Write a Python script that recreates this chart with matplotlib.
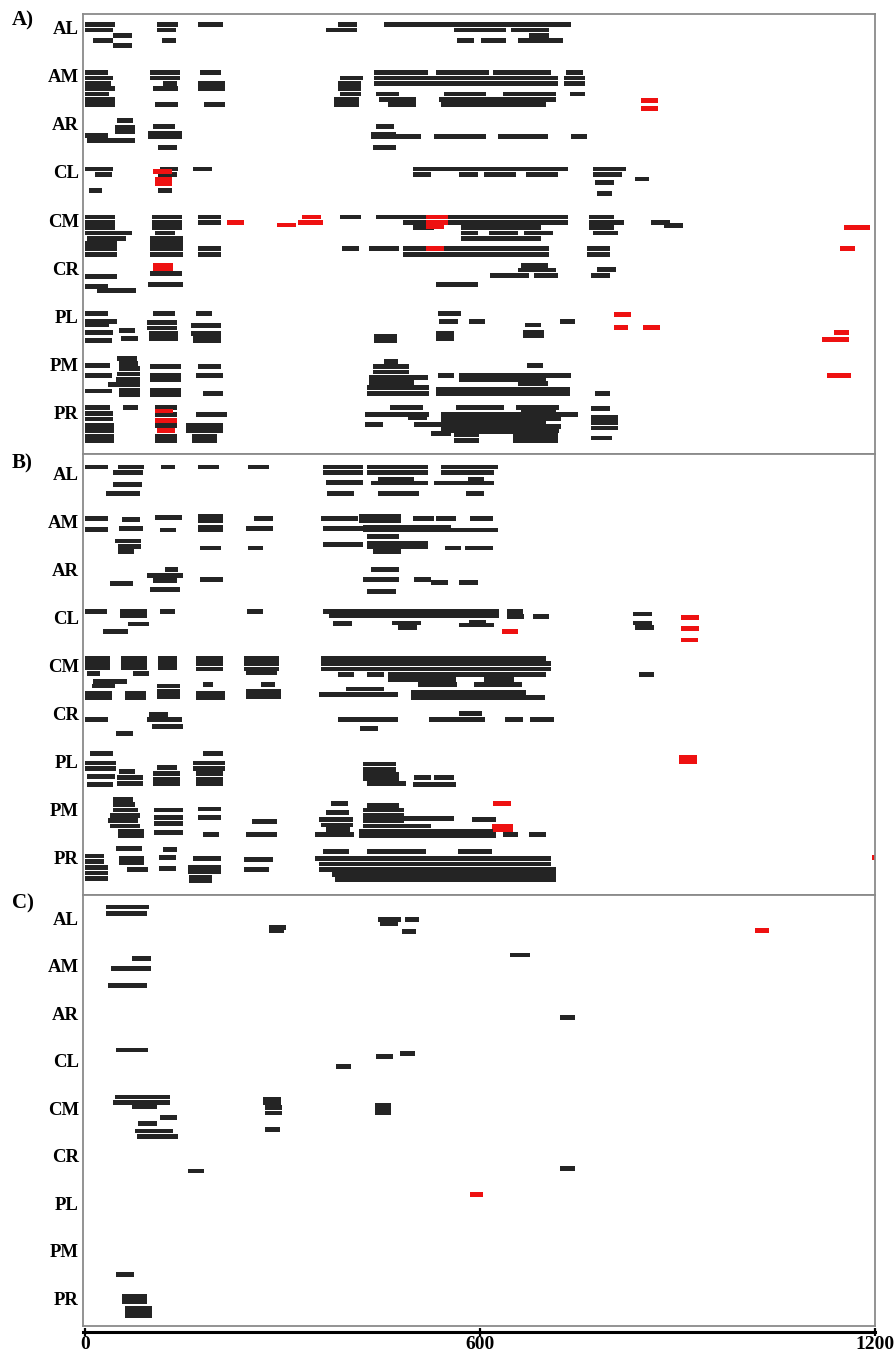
import matplotlib
matplotlib.use("Agg")
import matplotlib.pyplot as plt

# categories (rows of each panel) and x ticks
cats = ["AL", "AM", "AR", "CL", "CM", "CR", "PL", "PM", "PR"]
xticks = [0, 600, 1200]
panel_names = ["A)", "B)", "C)"]

# segments: (category, sub-row, start, end)
a_black = [
    ("AL", 0, 0, 46), ("AL", 1, 0, 42), ("AL", 2, 43, 72), ("AL", 3, 12, 43), ("AL", 4, 43, 72),
    ("AL", 0, 110, 142), ("AL", 1, 110, 138), ("AL", 3, 117, 138), ("AL", 0, 171, 210),
    ("AL", 0, 385, 413), ("AL", 1, 366, 413), ("AL", 0, 454, 739), ("AL", 1, 560, 640),
    ("AL", 1, 647, 705), ("AL", 2, 675, 705), ("AL", 3, 565, 591), ("AL", 3, 602, 640), ("AL", 3, 658, 726),

    ("AM", 0, 0, 35), ("AM", 1, 0, 43), ("AM", 2, 0, 40), ("AM", 3, 0, 46), ("AM", 4, 0, 37),
    ("AM", 5, 0, 46), ("AM", 6, 0, 46),
    ("AM", 0, 99, 145), ("AM", 1, 99, 145), ("AM", 2, 119, 140), ("AM", 3, 104, 142), ("AM", 6, 107, 142),
    ("AM", 0, 174, 207), ("AM", 2, 172, 212), ("AM", 3, 172, 212), ("AM", 6, 181, 213),
    ("AM", 1, 388, 422), ("AM", 2, 384, 419), ("AM", 3, 384, 419), ("AM", 4, 388, 419),
    ("AM", 5, 379, 416), ("AM", 6, 379, 416),
    ("AM", 0, 439, 521), ("AM", 0, 533, 614), ("AM", 0, 620, 708), ("AM", 0, 731, 757),
    ("AM", 1, 439, 719), ("AM", 2, 439, 719), ("AM", 1, 728, 760), ("AM", 2, 728, 760),
    ("AM", 4, 442, 477), ("AM", 4, 545, 609), ("AM", 4, 635, 716), ("AM", 4, 736, 760),
    ("AM", 5, 446, 503), ("AM", 5, 538, 716), ("AM", 6, 460, 503), ("AM", 6, 541, 700),

    ("AR", 0, 49, 73), ("AR", 1.2, 46, 76), ("AR", 2, 46, 76), ("AR", 2.8, 0, 35), ("AR", 3.7, 3, 76),
    ("AR", 1, 104, 137), ("AR", 2.4, 96, 148), ("AR", 3.0, 96, 148), ("AR", 5, 111, 140),
    ("AR", 1, 442, 469), ("AR", 2.5, 434, 472), ("AR", 3, 434, 510), ("AR", 3, 530, 609),
    ("AR", 3, 627, 703), ("AR", 3, 739, 763), ("AR", 5, 437, 472),

    ("CL", 0, 0, 43), ("CL", 1, 15, 41), ("CL", 4, 6, 26),
    ("CL", 0, 114, 142), ("CL", 1, 111, 140), ("CL", 4, 111, 132), ("CL", 0, 164, 193),
    ("CL", 0, 498, 734), ("CL", 1, 498, 525), ("CL", 1, 568, 597), ("CL", 1, 606, 655), ("CL", 1, 670, 719),
    ("CL", 0, 772, 822), ("CL", 1, 772, 815), ("CL", 2.6, 775, 803), ("CL", 4.7, 777, 800), ("CL", 1.9, 835, 857),

    ("CM", 0, 0, 46), ("CM", 1, 0, 46), ("CM", 2, 0, 46), ("CM", 3, 0, 72), ("CM", 4, 3, 62),
    ("CM", 5, 0, 49), ("CM", 6, 0, 49), ("CM", 7, 0, 49),
    ("CM", 0, 102, 148), ("CM", 1, 102, 148), ("CM", 2, 102, 148), ("CM", 3, 107, 137),
    ("CM", 4, 99, 149), ("CM", 5, 99, 149), ("CM", 6, 99, 149), ("CM", 7, 99, 149),
    ("CM", 0, 171, 206), ("CM", 1, 171, 206), ("CM", 6, 171, 207), ("CM", 7, 171, 207),
    ("CM", 0, 388, 419), ("CM", 0, 442, 734), ("CM", 1, 483, 734), ("CM", 2, 498, 530), ("CM", 2, 571, 693),
    ("CM", 3, 571, 597), ("CM", 3, 614, 658), ("CM", 3, 667, 711), ("CM", 3, 772, 809),
    ("CM", 4, 571, 693), ("CM", 6, 391, 416), ("CM", 6, 431, 477), ("CM", 6, 483, 705), ("CM", 7, 483, 705),
    ("CM", 0, 766, 803), ("CM", 1, 766, 819), ("CM", 2, 766, 803), ("CM", 6, 762, 797), ("CM", 7, 762, 797),
    ("CM", 1, 859, 888), ("CM", 1.6, 879, 909),

    ("CR", 2.2, 0, 49), ("CR", 4, 0, 35), ("CR", 4.8, 18, 78), ("CR", 1.6, 99, 148), ("CR", 3.6, 96, 149),
    ("CR", 0, 663, 703), ("CR", 0.9, 658, 716), ("CR", 2, 615, 675), ("CR", 2, 682, 719),
    ("CR", 0.8, 777, 806), ("CR", 2, 769, 797), ("CR", 3.6, 533, 597),

    ("PL", 0, 0, 35), ("PL", 1.5, 0, 49), ("PL", 2.2, 0, 37), ("PL", 3.7, 0, 43), ("PL", 5.2, 0, 41),
    ("PL", 3.2, 52, 76), ("PL", 4.8, 55, 81),
    ("PL", 0, 104, 137), ("PL", 1.8, 94, 140), ("PL", 2.8, 94, 140), ("PL", 3.8, 97, 142), ("PL", 4.8, 97, 142),
    ("PL", 0, 169, 193), ("PL", 2.3, 161, 207), ("PL", 3.8, 161, 206), ("PL", 4.4, 164, 206), ("PL", 5.2, 164, 207),
    ("PL", 4.3, 439, 474), ("PL", 5.2, 439, 474),
    ("PL", 0, 536, 571), ("PL", 1.6, 538, 567), ("PL", 1.6, 583, 608), ("PL", 2.2, 669, 693), ("PL", 1.6, 722, 745),
    ("PL", 3.8, 533, 560), ("PL", 4.8, 533, 560), ("PL", 3.7, 665, 697), ("PL", 4.3, 665, 697),

    ("PM", 0.8, 0, 38), ("PM", 2.6, 0, 41), ("PM", 5.6, 0, 41),
    ("PM", -0.6, 49, 79), ("PM", 0.4, 51, 81), ("PM", 1.4, 51, 83), ("PM", 2.4, 49, 84),
    ("PM", 3.4, 47, 84), ("PM", 4.4, 35, 84), ("PM", 5.4, 51, 84), ("PM", 6.2, 51, 84),
    ("PM", 0.9, 99, 146), ("PM", 2.6, 99, 146), ("PM", 3.5, 99, 146), ("PM", 5.5, 99, 146), ("PM", 6.2, 99, 146),
    ("PM", 0.9, 171, 207), ("PM", 2.6, 168, 209), ("PM", 6, 180, 210),
    ("PM", 0, 454, 475), ("PM", 1, 437, 492), ("PM", 2, 437, 492), ("PM", 3, 431, 521),
    ("PM", 4, 431, 500), ("PM", 5, 429, 522), ("PM", 6, 429, 522),
    ("PM", 2.6, 536, 560), ("PM", 2.6, 568, 739), ("PM", 3.4, 568, 700), ("PM", 4.2, 658, 703),
    ("PM", 0.8, 672, 696), ("PM", 5.3, 533, 737), ("PM", 6, 533, 737), ("PM", 6, 774, 797),

    ("PR", -0.3, 0, 38), ("PR", 0.8, 0, 43), ("PR", 1.8, 0, 43), ("PR", 3, 0, 44), ("PR", 4, 0, 44),
    ("PR", 5, 0, 44), ("PR", 5.8, 0, 44), ("PR", -0.3, 58, 81),
    ("PR", -0.3, 107, 140), ("PR", 1, 107, 140), ("PR", 3, 107, 140), ("PR", 5, 107, 140), ("PR", 5.8, 107, 140),
    ("PR", 0.9, 168, 215), ("PR", 3, 154, 210), ("PR", 4, 154, 210), ("PR", 5, 163, 200), ("PR", 5.8, 163, 200),
    ("PR", -0.3, 464, 513), ("PR", 1, 426, 522), ("PR", 1.6, 490, 520), ("PR", 2.8, 426, 452), ("PR", 2.8, 500, 556),
    ("PR", 4.6, 526, 556), ("PR", -0.3, 563, 637), ("PR", -0.3, 655, 720), ("PR", 0.4, 663, 716),
    ("PR", 1, 541, 749), ("PR", 1.8, 541, 723), ("PR", 2.5, 541, 700), ("PR", 3.2, 541, 723), ("PR", 4, 541, 720),
    ("PR", 4.8, 560, 599), ("PR", 5.8, 560, 599), ("PR", 4.2, 599, 650),
    ("PR", 4.4, 650, 719), ("PR", 5.2, 650, 719), ("PR", 5.9, 650, 719),
    ("PR", -0.2, 768, 797), ("PR", 1.5, 769, 810), ("PR", 2.5, 769, 810), ("PR", 3.5, 769, 810), ("PR", 5.4, 768, 801),
]
a_red = [
    ("AM", 5.2, 845, 870), ("AM", 6.7, 845, 870),
    ("CL", 0.5, 104, 132), ("CL", 2, 107, 132), ("CL", 2.7, 107, 132),
    ("CM", 1, 216, 241), ("CM", 1.5, 291, 320), ("CM", 0, 330, 358), ("CM", 1, 324, 362),
    ("CM", 0, 518, 551), ("CM", 1, 518, 551), ("CM", 1.8, 518, 545), ("CM", 6, 518, 545),
    ("CM", 1.9, 1153, 1192), ("CM", 6, 1147, 1170),
    ("CR", 0, 104, 134), ("CR", 0.6, 104, 134),
    ("PL", 0.3, 804, 829), ("PL", 2.7, 803, 825), ("PL", 2.7, 847, 873),
    ("PL", 3.6, 1138, 1161), ("PL", 5, 1119, 1161),
    ("PM", 2.7, 1127, 1164),
    ("PR", 0.3, 107, 134), ("PR", 2.1, 107, 140), ("PR", 3.9, 109, 137),
]

b_black = [
    ("AL", 0, 0, 35), ("AL", 0, 50, 90), ("AL", 1.1, 43, 88), ("AL", 3.3, 43, 87), ("AL", 5, 32, 84),
    ("AL", 0, 116, 137), ("AL", 0, 171, 204), ("AL", 0, 248, 279),
    ("AL", 0, 362, 423), ("AL", 0, 429, 521), ("AL", 0, 541, 627),
    ("AL", 1, 362, 423), ("AL", 1, 429, 521), ("AL", 1, 541, 621),
    ("AL", 2.9, 366, 422), ("AL", 2.3, 445, 500), ("AL", 3, 434, 521), ("AL", 3, 530, 621), ("AL", 2.3, 582, 606),
    ("AL", 5, 368, 408), ("AL", 5, 445, 507), ("AL", 5, 579, 606),

    ("AM", 0.7, 0, 35), ("AM", 2.7, 0, 35),
    ("AM", 0.8, 56, 84), ("AM", 2.6, 52, 88), ("AM", 4.9, 46, 85), ("AM", 5.9, 50, 85), ("AM", 6.9, 50, 75),
    ("AM", 0.5, 107, 148), ("AM", 2.8, 114, 139),
    ("AM", 0.3, 172, 209), ("AM", 1, 172, 209), ("AM", 2.3, 171, 210), ("AM", 2.8, 171, 210), ("AM", 6.2, 175, 207),
    ("AM", 0.7, 256, 286), ("AM", 2.6, 244, 285), ("AM", 6.2, 248, 271),
    ("AM", 0.7, 358, 414), ("AM", 0.3, 416, 480), ("AM", 1, 416, 480), ("AM", 0.7, 498, 530),
    ("AM", 0.7, 533, 563), ("AM", 0.7, 585, 620),
    ("AM", 2.6, 361, 423), ("AM", 2.3, 423, 556), ("AM", 2.8, 423, 627), ("AM", 4, 429, 477),
    ("AM", 5.6, 361, 422), ("AM", 5.3, 428, 521), ("AM", 6, 428, 521), ("AM", 6.2, 547, 571),
    ("AM", 6.2, 577, 620), ("AM", 6.9, 437, 480),

    ("AR", 3.9, 38, 73), ("AR", 1.2, 122, 142), ("AR", 2.3, 94, 149), ("AR", 3.3, 104, 140), ("AR", 4.9, 99, 145),
    ("AR", 3.1, 174, 210), ("AR", 1.2, 434, 477), ("AR", 3.1, 422, 477), ("AR", 3.1, 500, 525),
    ("AR", 3.7, 525, 551), ("AR", 5.4, 429, 472), ("AR", 3.7, 568, 597),

    ("CL", 0, 0, 34), ("CL", 0, 53, 94), ("CL", 0.8, 53, 94), ("CL", 2.4, 65, 98), ("CL", 3.8, 27, 65),
    ("CL", 0, 114, 137), ("CL", 0, 246, 271),
    ("CL", 0, 362, 629), ("CL", 0.9, 370, 629), ("CL", 2.3, 376, 406), ("CL", 2.2, 467, 510), ("CL", 3, 475, 505),
    ("CL", 0, 641, 665), ("CL", 1, 641, 667), ("CL", 1, 681, 705), ("CL", 2.6, 568, 621), ("CL", 2, 583, 609),
    ("CL", 0.5, 833, 862), ("CL", 2.2, 833, 862), ("CL", 3, 836, 865),

    ("CM", -0.2, 0, 38), ("CM", 0.8, 0, 38), ("CM", 1.6, 0, 38), ("CM", 2.6, 3, 23), ("CM", 4.1, 12, 64),
    ("CM", 5, 11, 46), ("CM", 6.4, 0, 41), ("CM", 7.3, 0, 41),
    ("CM", -0.2, 55, 94), ("CM", 0.8, 55, 94), ("CM", 1.6, 55, 94), ("CM", 2.6, 73, 98),
    ("CM", 6.4, 61, 93), ("CM", 7.2, 61, 93),
    ("CM", -0.2, 111, 140), ("CM", 0.8, 111, 140), ("CM", 1.6, 111, 140),
    ("CM", 5, 110, 145), ("CM", 6, 110, 145), ("CM", 7, 110, 145),
    ("CM", -0.2, 168, 209), ("CM", 0.8, 168, 209), ("CM", 1.8, 168, 209), ("CM", 4.7, 180, 195),
    ("CM", 6.4, 168, 212), ("CM", 7.2, 168, 212),
    ("CM", -0.2, 241, 294), ("CM", 0.8, 241, 294), ("CM", 1.8, 241, 294), ("CM", 2.5, 244, 291),
    ("CM", 4.7, 267, 289), ("CM", 6, 244, 297), ("CM", 7, 244, 297),
    ("CM", -0.2, 358, 700), ("CM", 0.8, 358, 708), ("CM", 1.8, 358, 708),
    ("CM", 2.8, 384, 408), ("CM", 2.8, 428, 454), ("CM", 2.8, 460, 700), ("CM", 3.8, 460, 563),
    ("CM", 4.8, 506, 565), ("CM", 3.8, 606, 652), ("CM", 4.7, 591, 664),
    ("CM", 5.6, 396, 454), ("CM", 6.6, 355, 475), ("CM", 6.2, 495, 670), ("CM", 7.2, 495, 699),
    ("CM", 2.8, 841, 864),

    ("CR", 2.3, 0, 35), ("CR", 4.9, 47, 73), ("CR", 1.3, 97, 126), ("CR", 2.2, 94, 148), ("CR", 3.6, 102, 149),
    ("CR", 2.3, 384, 475), ("CR", 3.9, 417, 445), ("CR", 2.3, 522, 608), ("CR", 1.1, 568, 603),
    ("CR", 2.2, 638, 665), ("CR", 2.2, 676, 713),

    ("PL", -0.4, 8, 43), ("PL", 1.4, 0, 47), ("PL", 2.4, 0, 47), ("PL", 3.9, 3, 46), ("PL", 5.4, 3, 43),
    ("PL", 3, 52, 76), ("PL", 4.2, 49, 88), ("PL", 5.2, 49, 88),
    ("PL", 2.3, 110, 140), ("PL", 3.4, 104, 145), ("PL", 4.4, 104, 145), ("PL", 5.3, 104, 145),
    ("PL", -0.4, 180, 210), ("PL", 1.4, 164, 212), ("PL", 2.4, 164, 212),
    ("PL", 3.4, 168, 209), ("PL", 4.4, 168, 209), ("PL", 5.3, 168, 209),
    ("PL", 1.6, 423, 472), ("PL", 2.6, 423, 472), ("PL", 3.6, 422, 477), ("PL", 4.4, 422, 477),
    ("PL", 5.3, 429, 487), ("PL", 4.1, 500, 525), ("PL", 4.1, 530, 560), ("PL", 5.4, 498, 563),

    ("PM", -0.8, 43, 73), ("PM", 0.2, 43, 76), ("PM", 1.2, 43, 81), ("PM", 2.2, 38, 84),
    ("PM", 3.2, 35, 81), ("PM", 4.2, 38, 84), ("PM", 5.2, 50, 90), ("PM", 6, 50, 90),
    ("PM", 1.2, 105, 149), ("PM", 2.6, 105, 149), ("PM", 3.7, 105, 149), ("PM", 5.5, 105, 149),
    ("PM", 1, 171, 207), ("PM", 2.6, 171, 207), ("PM", 5.8, 180, 203),
    ("PM", 3.3, 254, 291), ("PM", 5.8, 245, 292),
    ("PM", 0, 373, 399), ("PM", 1.6, 366, 401), ("PM", 3, 355, 407), ("PM", 4, 358, 407),
    ("PM", 4.8, 366, 402), ("PM", 5.8, 350, 408),
    ("PM", 0.3, 429, 477), ("PM", 1.2, 422, 484), ("PM", 2.2, 422, 484), ("PM", 3.2, 422, 484),
    ("PM", 4.2, 422, 525), ("PM", 2.8, 484, 560), ("PM", 3, 588, 624),
    ("PM", 5.2, 416, 624), ("PM", 6, 416, 624), ("PM", 5.8, 635, 658), ("PM", 5.8, 675, 700),

    ("PR", 0.8, 0, 29), ("PR", 1.8, 0, 29), ("PR", 3, 0, 35), ("PR", 4, 0, 35), ("PR", 5, 0, 35),
    ("PR", -0.6, 47, 87), ("PR", 1.2, 52, 90), ("PR", 2.1, 52, 90), ("PR", 3.4, 64, 96),
    ("PR", -0.5, 119, 140), ("PR", 1, 113, 139), ("PR", 3.1, 113, 139),
    ("PR", 1.3, 164, 207), ("PR", 2.9, 157, 206), ("PR", 3.8, 157, 206), ("PR", 4.8, 158, 193), ("PR", 5.5, 158, 193),
    ("PR", 1.4, 241, 286), ("PR", 3.3, 241, 280),
    ("PR", 0, 361, 401), ("PR", 0, 429, 518), ("PR", 0, 566, 618),
    ("PR", 1.3, 350, 708), ("PR", 2.3, 355, 708), ("PR", 3.3, 355, 716), ("PR", 4.3, 375, 716), ("PR", 5.3, 380, 716),
]
b_red = [
    ("CL", 3.8, 634, 658), ("CL", 1.1, 906, 932), ("CL", 3.3, 905, 932), ("CL", 5.4, 905, 931),
    ("PL", 0.4, 903, 930), ("PL", 1.2, 903, 930),
    ("PM", 0, 620, 647), ("PM", 4.3, 618, 650), ("PM", 4.9, 620, 650),
    ("PR", 1, 1195, 1200),
]

c_black = [
    ("AL", 0, 32, 97), ("AL", 1.2, 32, 94), ("AL", 3.8, 279, 306), ("AL", 4.4, 279, 303),
    ("AL", 2.4, 445, 480), ("AL", 3.1, 448, 475), ("AL", 2.4, 486, 507), ("AL", 4.6, 481, 503),
    ("AM", 0.7, 72, 101), ("AM", 2.6, 40, 101), ("AM", 5.8, 35, 94), ("AM", 0.1, 646, 676),
    ("AR", 2.9, 722, 745),
    ("CL", 0.1, 47, 96), ("CL", 3.2, 381, 404), ("CL", 1.3, 442, 468), ("CL", 0.7, 478, 501),
    ("CM", 0, 46, 129), ("CM", 1, 43, 129), ("CM", 1.8, 72, 110), ("CM", 3.9, 114, 140),
    ("CM", 5, 81, 110), ("CM", 6.4, 76, 134), ("CM", 7.4, 79, 142),
    ("CM", 0.4, 271, 297), ("CM", 1, 271, 297), ("CM", 2, 274, 300), ("CM", 3, 274, 300),
    ("CM", 6.2, 273, 296), ("CM", 1.6, 440, 465), ("CM", 2.6, 440, 465), ("CM", 3, 440, 465),
    ("CR", 5, 157, 181), ("CR", 4.6, 722, 745),
    ("PR", -2.3, 47, 75), ("PR", 1.8, 56, 94), ("PR", 2.8, 56, 94),
    ("PR", 4, 61, 102), ("PR", 5, 61, 102), ("PR", 5.4, 61, 102),
]
c_red = [
    ("AL", 4.4, 1017, 1039),
    ("PL", 0.4, 585, 605),
]

# ---- layout (pixels of the 896x1352 canvas) ----
W, H = 896, 1352
LEFT, RIGHT = 83, 875
panels = [
    # top, bottom, first label centre, label spacing, first sub-row offset
    dict(top=14, bottom=454, first=27.65, step=48.1, shift=-3, black=a_black, red=a_red, tag_y=20),
    dict(top=454, bottom=895, first=473.0, step=48.1, shift=-6, black=b_black, red=b_red, tag_y=463),
    dict(top=895, bottom=1326, first=918.0, step=47.5, shift=-11, black=c_black, red=c_red, tag_y=903),
]
LANE = 5.3
BAR_H = 4.8
BLACK = "#242424"
RED = "#ee1111"
FRAME = "#8a8a8a"
serif = "Liberation Serif"

fig = plt.figure(figsize=(W / 100, H / 100), dpi=100)
fig.patch.set_facecolor("white")


def fx(px):
    return px / W


def fy(px):
    return 1 - px / H


for p, name in zip(panels, panel_names):
    ax = fig.add_axes([fx(LEFT), fy(p["bottom"]), fx(RIGHT - LEFT), (p["bottom"] - p["top"]) / H])
    ax.set_xlim(-3, 1200)
    ax.set_ylim(p["bottom"], p["top"])
    label_y = {c: p["first"] + p["step"] * i for i, c in enumerate(cats)}

    for segs, col in ((p["black"], BLACK), (p["red"], RED)):
        ys = [label_y[c] + p["shift"] + LANE * k for c, k, s, e in segs]
        ax.barh(ys, [e - s for c, k, s, e in segs], left=[s for c, k, s, e in segs],
                height=BAR_H, color=col, linewidth=0)

    ax.set_yticks([label_y[c] for c in cats])
    ax.set_yticklabels(cats, fontfamily=serif, fontweight="bold", fontsize=13.5)
    ax.tick_params(axis="y", length=0, pad=3)
    ax.set_xticks([])
    for sp in ax.spines.values():
        sp.set_color(FRAME)
        sp.set_linewidth(1.3)

    fig.text(fx(12), fy(p["tag_y"]), name, fontfamily=serif, fontweight="bold",
             fontsize=15, ha="left", va="center")

# bottom time axis
axx = fig.add_axes([fx(LEFT), fy(1332), fx(RIGHT - LEFT), 0.0001])
axx.set_xlim(-3, 1200)
axx.set_yticks([])
for s in ("top", "left", "right"):
    axx.spines[s].set_visible(False)
axx.spines["bottom"].set_linewidth(2.2)
axx.spines["bottom"].set_color("black")
axx.set_xticks(xticks)
axx.set_xticklabels([str(t) for t in xticks], fontfamily=serif, fontweight="bold", fontsize=14)
axx.tick_params(axis="x", direction="inout", length=6, width=1.6, pad=0)
axx.patch.set_alpha(0)

fig.savefig("out.png", dpi=100)
